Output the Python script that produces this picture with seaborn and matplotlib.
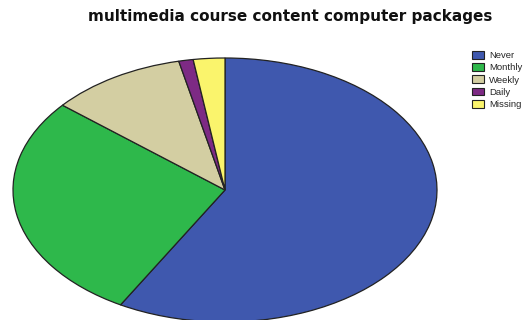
import matplotlib
matplotlib.use("Agg")
import matplotlib.pyplot as plt
import seaborn as sns
from matplotlib.patches import Patch

sns.set_theme(style="white")
plt.rcParams['font.family'] = ['Liberation Sans', 'DejaVu Sans']

categories = ["Never", "Monthly", "Weekly", "Daily", "Missing"]
values = [58.2, 27.9, 10.4, 1.1, 2.4]
colors = ["#3F58AE", "#2EB84B", "#D3CEA2", "#7D2A84", "#FAF46C"]

fig = plt.figure(figsize=(5.32, 3.2), dpi=100)
fig.patch.set_facecolor("white")

fig.text(290/532, 1 - 16/320, "multimedia course content computer packages",
         ha="center", va="center", fontsize=11, fontweight="bold", color="#111111",
         family=["DejaVu Sans"])

ax = fig.add_axes([13/532, -2/320, 424/532, 264/320])
wedges, _ = ax.pie(values, colors=colors, startangle=90, counterclock=False,
                   wedgeprops=dict(edgecolor="#222222", linewidth=0.9))
ax.set_aspect("auto")
ax.set_xlim(-1, 1)
ax.set_ylim(-1, 1)
ax.axis("off")
for w in wedges:
    w.set_clip_on(False)

handles = [Patch(facecolor=c, edgecolor="#222222", linewidth=0.8, label=l)
           for c, l in zip(colors, categories)]
fig.legend(handles=handles, loc="upper left", bbox_to_anchor=(472/532, 1 - 51/320),
           frameon=False, fontsize=6.8, handlelength=1.3, handleheight=0.9,
           handletextpad=0.5, labelspacing=0.32, borderaxespad=0, borderpad=0)

fig.savefig("out.png", dpi=100, facecolor="white")
